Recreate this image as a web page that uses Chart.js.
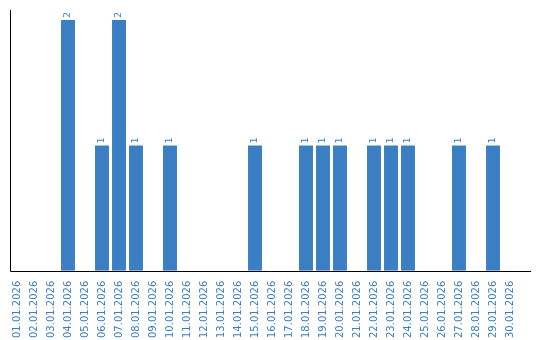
<!DOCTYPE html>
<html>
<head>
<meta charset="utf-8">
<script src="https://cdn.jsdelivr.net/npm/chart.js@4"></script>
<style>
  html, body { margin: 0; padding: 0; background: #fff; }
  #wrap { width: 540px; height: 340px; }
</style>
</head>
<body>
<div id="wrap"><canvas id="chart"></canvas></div>
<script>
/* Daily counts, January 2026 */
const dates = [
  '01.01.2026', '02.01.2026', '03.01.2026', '04.01.2026', '05.01.2026',
  '06.01.2026', '07.01.2026', '08.01.2026', '09.01.2026', '10.01.2026',
  '11.01.2026', '12.01.2026', '13.01.2026', '14.01.2026', '15.01.2026',
  '16.01.2026', '17.01.2026', '18.01.2026', '19.01.2026', '20.01.2026',
  '21.01.2026', '22.01.2026', '23.01.2026', '24.01.2026', '25.01.2026',
  '26.01.2026', '27.01.2026', '28.01.2026', '29.01.2026', '30.01.2026'
];
const counts = [0, 0, 0, 2, 0, 1, 2, 1, 0, 1, 0, 0, 0, 0, 1, 0, 0, 1, 1, 1, 0, 1, 1, 1, 0, 0, 1, 0, 1, 0];

const BLUE = '#3a7ec4';
const FONT = "'DejaVu Sans', Verdana, sans-serif";

// axis lines: left one and a bottom one that runs past the last category
const axisLines = {
  id: 'axisLines',
  afterDraw(chart) {
    const { ctx, chartArea: a } = chart;
    ctx.save();
    ctx.strokeStyle = '#000';
    ctx.lineWidth = 1;
    ctx.beginPath();
    ctx.moveTo(a.left + 2, a.top);
    ctx.lineTo(a.left + 2, Math.round(a.bottom) + 0.5);
    ctx.lineTo(531, Math.round(a.bottom) + 0.5);
    ctx.stroke();
    ctx.restore();
  }
};

// rotated value labels on top of bars
const valueLabels = {
  id: 'valueLabels',
  afterDatasetsDraw(chart) {
    const { ctx } = chart;
    const meta = chart.getDatasetMeta(0);
    ctx.save();
    ctx.fillStyle = BLUE;
    ctx.font = '9.5px ' + FONT;
    ctx.textAlign = 'left';
    ctx.textBaseline = 'middle';
    meta.data.forEach((bar, i) => {
      const v = counts[i];
      if (!v) return;
      ctx.save();
      ctx.translate(bar.x, bar.y - 2);
      ctx.rotate(-Math.PI / 2);
      ctx.fillText(String(v), 0, 0);
      ctx.restore();
    });
    ctx.restore();
  }
};

new Chart(document.getElementById('chart'), {
  type: 'bar',
  data: {
    labels: dates,
    datasets: [{
      data: counts,
      backgroundColor: BLUE,
      barPercentage: 0.82,
      categoryPercentage: 1.0
    }]
  },
  options: {
    responsive: true,
    maintainAspectRatio: false,
    animation: false,
    layout: { padding: { left: 8.5, right: 21.5, top: 10, bottom: 0 } },
    plugins: { legend: { display: false }, tooltip: { enabled: false } },
    scales: {
      x: {
        grid: { display: false },
        border: { display: false },
        ticks: {
          color: BLUE,
          font: { family: FONT, size: 10 },
          minRotation: 90,
          maxRotation: 90,
          autoSkip: false,
          padding: 2
        }
      },
      y: {
        display: false,
        min: 0,
        max: 2.08
      }
    }
  },
  plugins: [axisLines, valueLabels]
});
</script>
</body>
</html>
